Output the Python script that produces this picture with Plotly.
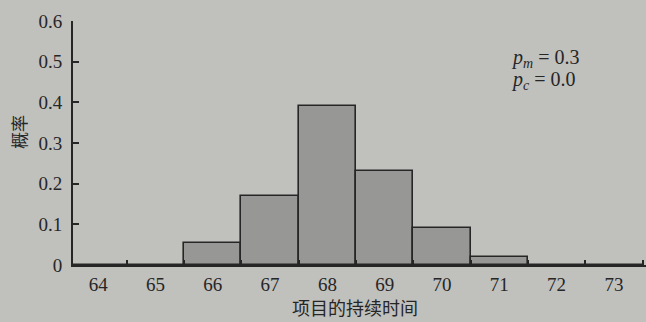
import plotly.graph_objects as go

# Project duration histogram (probability per duration value)
durations = [64, 65, 66, 67, 68, 69, 70, 71, 72, 73]
probabilities = [0.0, 0.0, 0.055, 0.17, 0.39, 0.23, 0.09, 0.02, 0.0, 0.0]
y_ticks = [0, 0.1, 0.2, 0.3, 0.4, 0.5, 0.6]
y_tick_text = ["0", "0.1", "0.2", "0.3", "0.4", "0.5", "0.6"]

BG = "#c0c0bd"
INK = "#262626"
SERIF = "Liberation Serif, Times New Roman, serif"
CJK = "Noto Sans CJK SC, sans-serif"

fig = go.Figure(
    go.Bar(
        x=durations,
        y=probabilities,
        width=1,
        marker=dict(color="#979795", line=dict(color=INK, width=1.6)),
    )
)

fig.update_layout(
    width=646,
    height=322,
    margin=dict(l=73, r=0, t=21, b=57),
    paper_bgcolor=BG,
    plot_bgcolor=BG,
    showlegend=False,
    bargap=0,
    font=dict(family=SERIF, size=19, color=INK),
    xaxis=dict(
        range=[63.56, 73.56],
        tickvals=durations,
        ticktext=[str(d) for d in durations],
        ticks="",
        showgrid=False,
        zeroline=False,
        showline=True,
        linecolor=INK,
        linewidth=1.8,
        ticklabelstandoff=1,
        minor=dict(
            tick0=63.5,
            dtick=1,
            ticks="inside",
            ticklen=5,
            tickwidth=1.5,
            tickcolor=INK,
            showgrid=False,
        ),
        tickfont=dict(family=SERIF, size=19, color=INK),
    ),
    yaxis=dict(
        range=[0, 0.6],
        tickvals=y_ticks,
        ticktext=y_tick_text,
        ticks="inside",
        ticklen=6,
        tickwidth=1.5,
        tickcolor=INK,
        showgrid=False,
        zeroline=False,
        showline=True,
        linecolor=INK,
        linewidth=1.8,
        ticklabelstandoff=5,
        tickfont=dict(family=SERIF, size=19, color=INK),
    ),
    annotations=[
        dict(
            text="项目的持续时间",
            xref="paper", yref="paper",
            x=(355 - 73) / 573, y=-(307 - 265) / 244,
            xanchor="center", yanchor="middle",
            showarrow=False,
            font=dict(family=CJK, size=18, color=INK),
        ),
        dict(
            text="概率",
            xref="paper", yref="paper",
            x=-(73 - 18) / 573, y=(265 - 132) / 244,
            xanchor="center", yanchor="middle",
            textangle=-90,
            showarrow=False,
            font=dict(family=CJK, size=17, color=INK),
        ),
        dict(
            text="<i>p</i><sub><i>m</i></sub> = 0.3",
            xref="paper", yref="paper",
            x=(509 - 73) / 573, y=(265 - 58) / 244,
            xanchor="left", yanchor="middle",
            showarrow=False,
            font=dict(family=SERIF, size=20, color=INK),
        ),
        dict(
            text="<i>p</i><sub><i>c</i></sub> = 0.0",
            xref="paper", yref="paper",
            x=(509 - 73) / 573, y=(265 - 80) / 244,
            xanchor="left", yanchor="middle",
            showarrow=False,
            font=dict(family=SERIF, size=20, color=INK),
        ),
    ],
)

fig.write_html("out.html")
